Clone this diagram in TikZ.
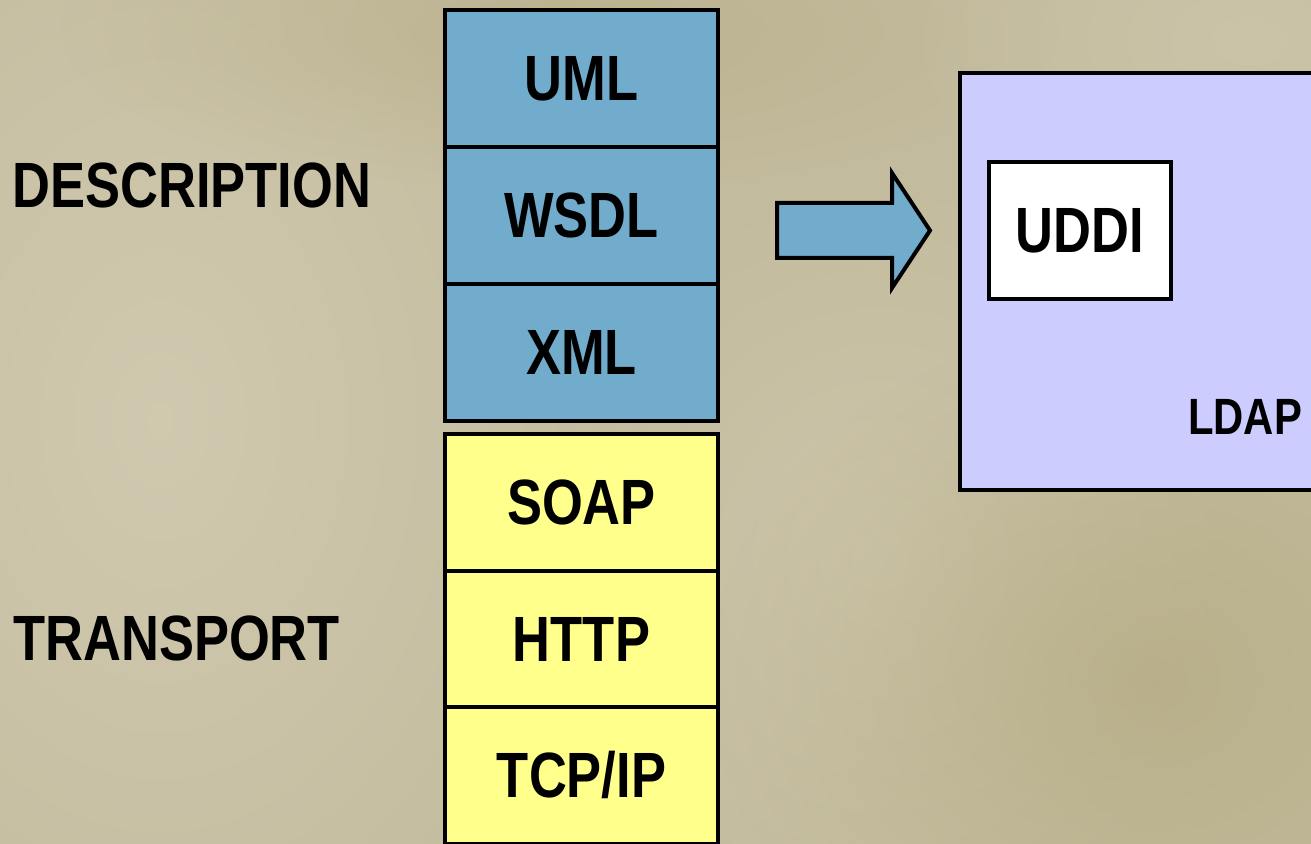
\documentclass[tikz,border=0pt]{standalone}
\usepackage{fontspec}
\setmainfont{Liberation Sans}
\newfontfamily\narrowbold[FakeStretch=0.82]{Liberation Sans Bold}
\usetikzlibrary{fadings}
\tikzfading[name=soft blob, inner color=transparent!0, outer color=transparent!100]
\definecolor{bgbase}{RGB}{195,187,157}
\definecolor{bglight}{RGB}{212,205,180}
\definecolor{bgdark}{RGB}{180,170,130}
\definecolor{descblue}{RGB}{114,172,204}
\definecolor{transyellow}{RGB}{255,255,140}
\definecolor{ldapviolet}{RGB}{204,204,255}
\tikzset{
  label text/.style={font=\narrowbold\fontsize{32}{36}\selectfont, text=black, inner sep=0pt},
  small text/.style={font=\narrowbold\fontsize{25.5}{30}\selectfont, text=black, inner sep=0pt},
  layer/.style={draw=black, line width=2pt, minimum width=136.5pt, minimum height=68.5pt, inner sep=0pt, label text},
  desc layer/.style={layer, fill=descblue},
  trans layer/.style={layer, fill=transyellow},
  block arrow/.style={draw=black, line width=2pt, fill=descblue, line join=miter},
  soft patch/.style={fill=#1, path fading=soft blob},
}
\begin{document}
\begin{tikzpicture}[x=0.5pt,y=-0.5pt]
  \useasboundingbox (0,0) rectangle (1311,844);
  \clip (0,0) rectangle (1311,844);
  % mottled backdrop
  \fill[bgbase] (0,0) rectangle (1311,844);
  \fill[soft patch=bglight, opacity=0.8] (160,420) ellipse (500 and 700);
  \fill[soft patch=bglight, opacity=0.6] (880,560) ellipse (360 and 400);
  \fill[soft patch=bgdark, opacity=0.7] (1150,680) ellipse (440 and 360);
  \fill[soft patch=bgdark, opacity=0.5] (560,30) ellipse (500 and 160);
  \fill[soft patch=bglight, opacity=0.5] (1250,40) ellipse (360 and 220);

  % labels on the left
  \node[label text, anchor=west] (desc) at (12,185) {DESCRIPTION};
  \node[label text, anchor=west] (trans) at (13,638) {TRANSPORT};

  % protocol stack
  \node[desc layer] (uml)  at (581.5,78.5)  {UML};
  \node[desc layer] (wsdl) at (581.5,215.5) {WSDL};
  \node[desc layer] (xml)  at (581.5,352.5) {XML};
  \node[trans layer] (soap) at (581.5,502.5) {SOAP};
  \node[trans layer] (http) at (581.5,639)   {HTTP};
  \node[trans layer] (tcp)  at (581.5,775)   {TCP/IP};

  % registry box
  \node[draw=black, line width=2pt, fill=ldapviolet, minimum width=190pt, minimum height=208.5pt, inner sep=0pt] (ldapbox) at (1149.5,281.5) {};
  \node[draw=black, line width=2pt, fill=white, minimum width=91pt, minimum height=68.5pt, inner sep=0pt, label text] (uddi) at (1080,230.5) {UDDI};
  \node[small text] (ldap) at (1245,417) {LDAP};

  % block arrow towards the registry
  \draw[block arrow] (777,203) -- (892,203) -- (892,173) -- (930,230.5)
    -- (892,288) -- (892,258) -- (777,258) -- cycle;
\end{tikzpicture}
\end{document}
